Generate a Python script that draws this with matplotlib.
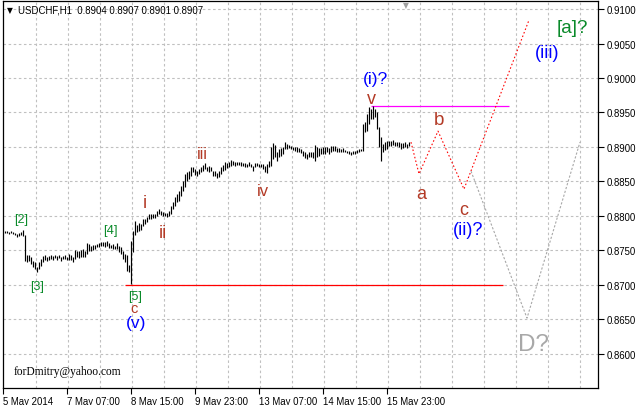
import matplotlib
matplotlib.use("Agg")
import matplotlib.pyplot as plt
import numpy as np

# ---------------- data ----------------
symbol_title = "USDCHF,H1  0.8904 0.8907 0.8901 0.8907"

highs = [
    .8778, .8778, .8777, .8778, .8777, .8775, .8774, .8775, .8777, .8780,
    .8772, .8743, .8743, .8741, .8735, .8733, .8726, .8733, .8738, .8742,
    .8743, .8741, .8742, .8743, .8742, .8743, .8742, .8743, .8741, .8742,
    .8743, .8741, .8745, .8743, .8741, .8751, .8749, .8749, .8751, .8752,
    .8749, .8761, .8759, .8757, .8758, .8758, .8759, .8761, .8762, .8762,
    .8762, .8764, .8761, .8758, .8759, .8757, .8761, .8757, .8755, .8749,
    .8745, .8743, .8729, .8764, .8778, .8793, .8787, .8790, .8788, .8796,
    .8796, .8799, .8803, .8803, .8803, .8803, .8807, .8810, .8807, .8806,
    .8804, .8804, .8807, .8814, .8820, .8828, .8832, .8836, .8843, .8851,
    .8861, .8864, .8865, .8871, .8871, .8868, .8865, .8868, .8871, .8874,
    .8877, .8871, .8872, .8871, .8865, .8865, .8862, .8865, .8871, .8874,
    .8878, .8877, .8878, .8881, .8880, .8878, .8878, .8878, .8878, .8877,
    .8877, .8875, .8878, .8875, .8872, .8877, .8877, .8875, .8875, .8875,
    .8872, .8875, .8880, .8900, .8906, .8903, .8893, .8897, .8899, .8900,
    .8907, .8904, .8903, .8901, .8900, .8900, .8900, .8899, .8897, .8894,
    .8893, .8890, .8893, .8893, .8893, .8903, .8900, .8899, .8899, .8900,
    .8900, .8900, .8899, .8901, .8901, .8901, .8899, .8899, .8897, .8899,
    .8896, .8894, .8894, .8893, .8894, .8894, .8896, .8897, .8897, .8933,
    .8936, .8948, .8958, .8955, .8959, .8955, .8951, .8929, .8914, .8904,
    .8907, .8909, .8909, .8909, .8910, .8907, .8907, .8907, .8906, .8906,
    .8907, .8904, .8907,
]
lows = [
    .8775, .8775, .8774, .8775, .8774, .8772, .8770, .8771, .8772, .8771,
    .8735, .8733, .8735, .8730, .8726, .8723, .8719, .8723, .8728, .8733,
    .8736, .8735, .8736, .8738, .8736, .8739, .8736, .8739, .8735, .8738,
    .8738, .8736, .8736, .8736, .8733, .8738, .8741, .8739, .8741, .8741,
    .8741, .8745, .8749, .8749, .8751, .8752, .8755, .8755, .8757, .8757,
    .8755, .8757, .8754, .8754, .8752, .8752, .8752, .8748, .8745, .8738,
    .8733, .8720, .8719, .8701, .8748, .8772, .8777, .8778, .8780, .8786,
    .8788, .8791, .8796, .8796, .8797, .8797, .8800, .8803, .8801, .8800,
    .8800, .8799, .8800, .8803, .8810, .8814, .8820, .8822, .8829, .8836,
    .8842, .8851, .8854, .8858, .8864, .8859, .8858, .8861, .8864, .8865,
    .8868, .8865, .8864, .8865, .8858, .8858, .8855, .8857, .8861, .8865,
    .8867, .8870, .8871, .8872, .8874, .8872, .8874, .8874, .8872, .8872,
    .8871, .8871, .8872, .8871, .8865, .8871, .8872, .8871, .8871, .8868,
    .8864, .8862, .8871, .8872, .8883, .8886, .8880, .8886, .8887, .8890,
    .8897, .8897, .8899, .8897, .8896, .8894, .8893, .8893, .8891, .8887,
    .8884, .8883, .8886, .8886, .8884, .8880, .8886, .8887, .8890, .8890,
    .8890, .8893, .8890, .8893, .8894, .8894, .8893, .8893, .8893, .8893,
    .8893, .8891, .8890, .8888, .8890, .8890, .8891, .8893, .8894, .8894,
    .8922, .8923, .8933, .8941, .8941, .8943, .8926, .8900, .8880, .8893,
    .8896, .8897, .8901, .8901, .8903, .8901, .8901, .8900, .8897, .8899,
    .8900, .8899, .8901,
]

# projected wave paths (bar index, price)
red_path_x = [204, 208, 217.5, 230.5, 263]
red_path_y = [0.8907, 0.8861, 0.8923, 0.8839, 0.9084]
gray_path_x = [234, 262, 288.5]
gray_path_y = [0.8865, 0.8652, 0.8907]

# horizontal levels: (price, start bar, end bar)
level_top = (0.8960, 184, 253)
level_bottom = (0.8700, 61, 250)

price_ticks = [0.8600, 0.8650, 0.8700, 0.8750, 0.8800, 0.8850,
               0.8900, 0.8950, 0.9000, 0.9050, 0.9100]
time_tick_pos = [0, 32, 64, 96, 128, 160, 192]
time_tick_labels = ["5 May 2014", "7 May 07:00", "8 May 15:00", "9 May 23:00",
                    "13 May 07:00", "14 May 15:00", "15 May 23:00"]

# wave labels
wave_text = ["[2]", "[3]", "[4]", "[5]", "c", "(v)", "i", "ii", "iii", "iv",
             "v", "(i)?", "a", "b", "c", "(ii)?", "(iii)", "[a]?", "D?"]
wave_x = [9.3, 16.8, 53.7, 65.8, 65.5, 66.5, 70.8, 80.0, 99.8, 130.0,
          184.0, 186.0, 209.3, 217.8, 230.2, 232.7, 271.9, 284.7, 265.0]
wave_y = [0.8796, 0.8699, 0.8780, 0.8684, 0.8666, 0.8645, 0.8819, 0.8776,
          0.8890, 0.8837, 0.8971, 0.8999, 0.8833, 0.8940, 0.8809, 0.8781,
          0.9037, 0.9073, 0.8614]

GREEN = "#0A8A2A"
BROWN = "#B33A26"
BLUE = "#0000FF"
wave_color = [GREEN, GREEN, GREEN, GREEN, BROWN, BLUE, BROWN, BROWN, BROWN, BROWN,
              BROWN, BLUE, BROWN, BROWN, BROWN, BLUE, BLUE, GREEN, "#A8A8A8"]
wave_size = [9, 9, 9.3, 9, 10.5, 12.5, 13, 13, 11.5, 12,
             13, 12.5, 13, 13.5, 13, 13, 13, 13.5, 17.5]

# ---------------- figure ----------------
W, H = 637, 406
fig = plt.figure(figsize=(W / 100, H / 100), dpi=100)
fig.patch.set_facecolor("white")
ax = fig.add_axes([3 / W, 1 - 389 / H, 595 / W, 387 / H])

ymin, ymax = 0.85507, 0.91116
ax.set_xlim(0, 297.5)
ax.set_ylim(ymin, ymax)

# grid
grid_kw = dict(color="#C0C0C0", lw=0.8, ls=(0, (2.3, 2.3)), zorder=0)
for k in range(1, 19):
    ax.axvline(16 * k + 0.4, **grid_kw)
for p in price_ticks:
    ax.axhline(p, **grid_kw)

# price bars
idx = np.arange(1, len(highs) + 1)
ax.vlines(idx, lows, highs, color="black", lw=0.85, zorder=3)

# levels
ax.hlines(level_top[0], level_top[1], level_top[2], color="#FF00FF", lw=0.9, zorder=2)
ax.hlines(level_bottom[0], level_bottom[1], level_bottom[2], color="#FF0000", lw=0.9, zorder=2)

# projections
ax.plot(red_path_x, red_path_y, color="#FF0000", lw=0.8, ls=(0, (1.4, 2.0)), zorder=2)
ax.plot(gray_path_x, gray_path_y, color="#A8A8A8", lw=0.8, ls=(0, (2, 1.6)), zorder=2)

# wave labels
for t, x, y, c, s in zip(wave_text, wave_x, wave_y, wave_color, wave_size):
    ax.text(x, y, t, color=c, fontsize=s, ha="center", va="center",
            family="Liberation Sans", zorder=4)

# axes styling
for sp in ax.spines.values():
    sp.set_color("black")
    sp.set_linewidth(0.9)
ax.yaxis.tick_right()
ax.set_yticks(price_ticks)
ax.set_yticklabels([f"{p:.4f}" for p in price_ticks], family="Liberation Sans", fontsize=6.9)
ax.set_xticks(time_tick_pos)
ax.set_xticklabels(time_tick_labels, family="Liberation Sans", fontsize=6.9, ha="left")
ax.tick_params(axis="y", direction="out", length=4, width=0.8, pad=2, colors="black")
ax.tick_params(axis="x", direction="out", length=4, width=0.8, pad=2, colors="black")
ax.tick_params(axis="both", which="both", top=False, left=False)

# title & decorations
fig.text(7 / W, 1 - 10.5 / H, "\u25BC", fontsize=5.5, color="black", ha="left", va="center",
         family="DejaVu Sans")
fig.text(18 / W, 1 - 10.7 / H, symbol_title, fontsize=6.9, color="black", ha="left",
         va="center", family="Liberation Sans")
fig.text(406 / W, 1 - 6 / H, "\u25BC", fontsize=5.5, color="#A0A0A0", ha="center",
         va="center", family="DejaVu Sans")
fig.text(13.3 / W, 1 - 372 / H, "forDmitry@yahoo.com", fontsize=8.3, color="black",
         ha="left", va="center", family="Liberation Serif")

fig.savefig("out.png", dpi=100, facecolor="white")
